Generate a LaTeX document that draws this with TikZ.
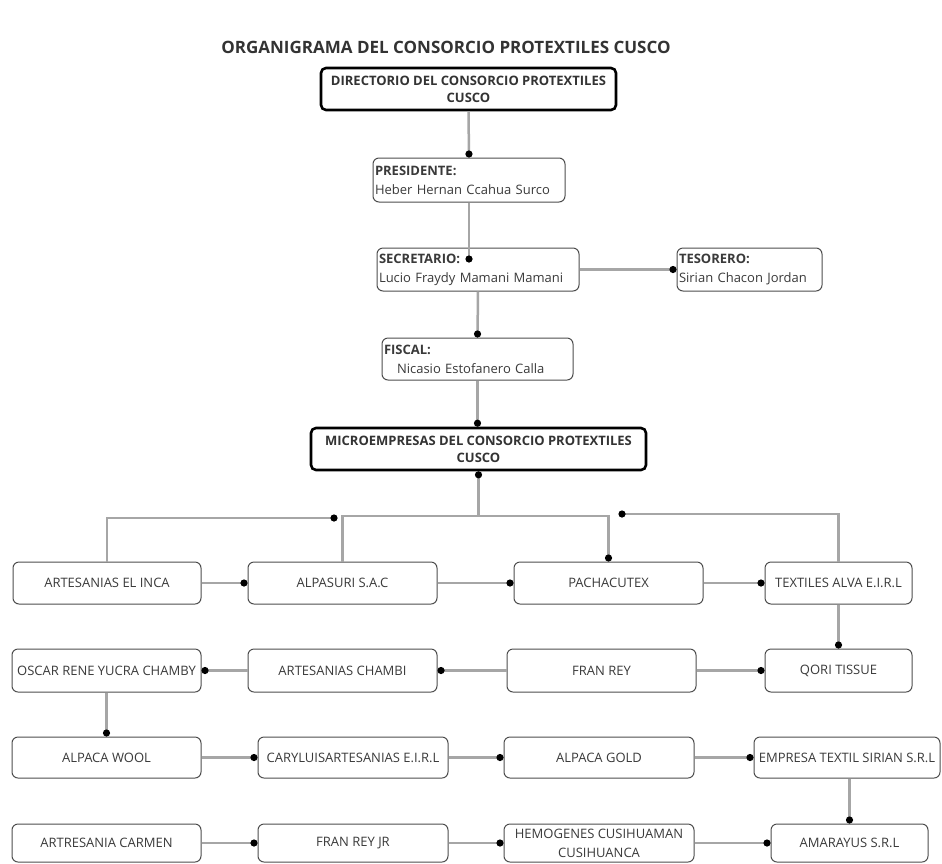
\documentclass[tikz,border=0pt]{standalone}
\usepackage{fontspec}
\setmainfont{Open Sans}
\usetikzlibrary{arrows.meta}
\definecolor{conncol}{HTML}{A6A6A6}
\definecolor{boxline}{HTML}{4D4D4D}
\definecolor{txtcol}{HTML}{3A3A3A}
\definecolor{titlecol}{HTML}{333333}
\begin{document}
\begin{tikzpicture}[x=1pt,y=-1pt,
  every node/.style={font=\fontsize{13}{19}\selectfont, text=txtcol},
  bigbox/.style={draw=black, line width=2.6pt, rounded corners=5pt, fill=white, align=center, font=\fontsize{13}{17}\selectfont\bfseries, text=titlecol, inner sep=0pt},
  infobox/.style={draw=boxline, line width=1pt, rounded corners=6pt, fill=white, align=left, inner sep=2pt},
  compbox/.style={draw=boxline, line width=1pt, rounded corners=6pt, fill=white, align=center, inner sep=1pt},
  conn/.style={draw=conncol, line width=2.5pt},
  dotend/.style={-{Circle[length=7pt,width=7pt,color=black]}},
]
\useasboundingbox (0,0) rectangle (942,863);
\fill[white] (0,0) rectangle (942,863);

\node[font=\fontsize{17}{20}\selectfont\bfseries, text=titlecol] (title) at (446,47) {ORGANIGRAMA DEL CONSORCIO PROTEXTILES CUSCO};

\node[bigbox, minimum width=295pt, minimum height=42pt] (dir) at (468.5,89) {DIRECTORIO DEL CONSORCIO PROTEXTILES\\CUSCO};
\node[infobox, minimum width=192pt, minimum height=44pt, text width=188pt] (pres) at (469,180) {\textbf{PRESIDENTE:}\\Heber Hernan Ccahua Surco};
\node[infobox, minimum width=202pt, minimum height=43pt, text width=198pt, inner sep=1pt] (sec) at (478,269.5) {\textbf{SECRETARIO:}\\Lucio Fraydy Mamani Mamani};
\node[infobox, minimum width=145pt, minimum height=43pt, text width=141pt, inner sep=1pt] (tes) at (749.5,269.5) {\textbf{TESORERO:}\\Sirian Chacon Jordan};
\node[infobox, minimum width=191pt, minimum height=42pt, text width=187pt] (fis) at (477.5,359) {\textbf{FISCAL:}\\\hspace*{13pt}Nicasio Estofanero Calla};
\node[bigbox, minimum width=335pt, minimum height=42pt] (mic) at (478.5,449) {MICROEMPRESAS DEL CONSORCIO PROTEXTILES\\CUSCO};

% row 1
\node[compbox, minimum width=188pt, minimum height=42pt] (inca) at (107,583) {ARTESANIAS EL INCA};
\node[compbox, minimum width=189pt, minimum height=42pt] (alpa) at (342.5,583) {ALPASURI S.A.C};
\node[compbox, minimum width=189pt, minimum height=42pt] (pach) at (608.5,583) {PACHACUTEX};
\node[compbox, minimum width=147pt, minimum height=42pt] (alva) at (838.5,583) {TEXTILES ALVA E.I.R.L};
% row 2
\node[compbox, minimum width=189pt, minimum height=43pt] (oscar) at (106.5,670.5) {OSCAR RENE YUCRA CHAMBY};
\node[compbox, minimum width=189pt, minimum height=43pt] (chambi) at (342.5,670.5) {ARTESANIAS CHAMBI};
\node[compbox, minimum width=189pt, minimum height=43pt] (franrey) at (601.5,670.5) {FRAN REY};
\node[compbox, minimum width=147pt, minimum height=43pt] (qori) at (838.5,670.5) {QORI TISSUE};
% row 3
\node[compbox, minimum width=189pt, minimum height=41pt] (wool) at (106.5,757.5) {ALPACA WOOL};
\node[compbox, minimum width=190pt, minimum height=41pt] (cary) at (353,757.5) {CARYLUISARTESANIAS E.I.R.L};
\node[compbox, minimum width=190pt, minimum height=41pt] (gold) at (599,757.5) {ALPACA GOLD};
\node[compbox, minimum width=186pt, minimum height=41pt] (emp) at (847,757.5) {EMPRESA TEXTIL SIRIAN S.R.L};
% row 4
\node[compbox, minimum width=189pt, minimum height=38pt] (carmen) at (106.5,843) {ARTRESANIA CARMEN};
\node[compbox, minimum width=190pt, minimum height=38pt] (franjr) at (353,843) {FRAN REY JR};
\node[compbox, minimum width=190pt, minimum height=38pt] (hemo) at (599,843) {HEMOGENES CUSIHUAMAN\\CUSIHUANCA};
\node[compbox, minimum width=157pt, minimum height=38pt] (amar) at (849.5,843) {AMARAYUS S.R.L};

% connectors, upper part
\coordinate (secdot) at (469,262.5);
\draw[conn,dotend] (dir.south) -- (pres.north);
\draw[conn,dotend] (pres.south) -- (secdot);
\draw[conn,dotend] (sec.east) -- (tes.west);
\draw[conn,dotend] (sec.south) -- (fis.north);
\draw[conn,dotend] (fis.south) -- (fis.south |- mic.north);

% bus
\coordinate (busL) at (337.5,518);
\coordinate (busM) at (608.5,516);
\coordinate (busR) at (618.5,514);
\draw[conn,dotend] (inca.north) |- (busL);
\draw[conn,dotend] (alpa.north) |- (busM) -- (pach.north);
\draw[conn,dotend] (mic.south |- busM) -- (mic.south);
\draw[conn,dotend] (alva.north) |- (busR);

% rows
\draw[conn,dotend] (inca.east) -- (alpa.west);
\draw[conn,dotend] (alpa.east) -- (pach.west);
\draw[conn,dotend] (pach.east) -- (alva.west);
\draw[conn,dotend] (alva.south) -- (qori.north);
\draw[conn,dotend] (franrey.east) -- (qori.west);
\draw[conn,dotend] (franrey.west) -- (chambi.east);
\draw[conn,dotend] (chambi.west) -- (oscar.east);
\draw[conn,dotend] (oscar.south) -- (wool.north);
\draw[conn,dotend] (wool.east) -- (cary.west);
\draw[conn,dotend] (cary.east) -- (gold.west);
\draw[conn,dotend] (gold.east) -- (emp.west);
\draw[conn,dotend] (amar.north |- emp.south) -- (amar.north);
\draw[conn,dotend] (carmen.east) -- (franjr.west);
\draw[conn,dotend] (franjr.east) -- (hemo.west);
\draw[conn,dotend] (hemo.east) -- (amar.west);
\end{tikzpicture}
\end{document}
